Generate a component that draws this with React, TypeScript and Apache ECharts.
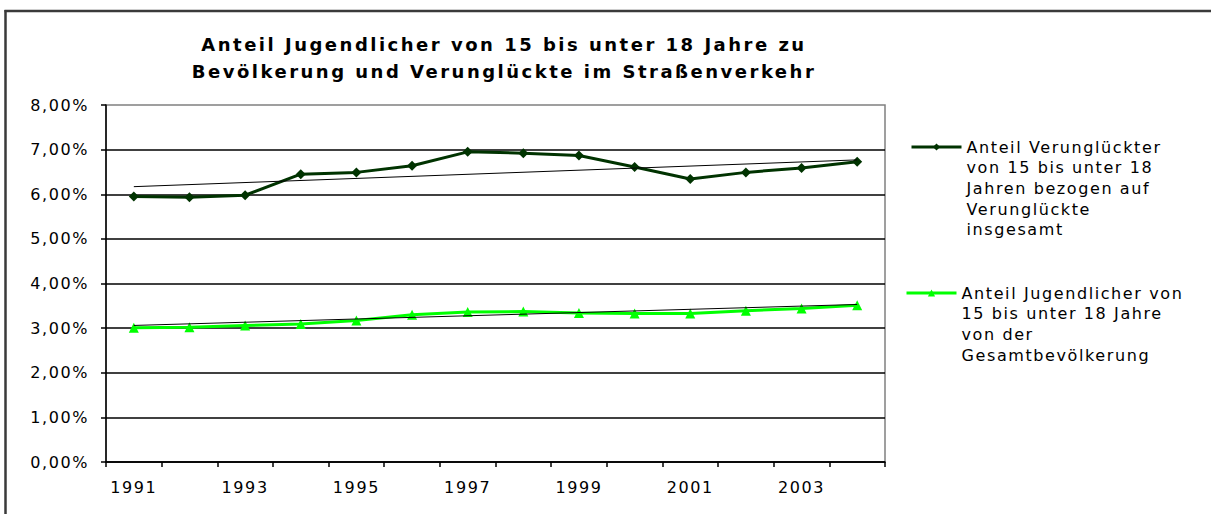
import React, { useEffect, useRef } from "react";
import * as echarts from "echarts";

const titleLines = [
  "Anteil Jugendlicher von 15 bis unter 18 Jahre zu",
  "Bevölkerung und Verunglückte im Straßenverkehr",
];

const years = ["1991", "1992", "1993", "1994", "1995", "1996", "1997", "1998", "1999", "2000", "2001", "2002", "2003", "2004"];

// Anteil Verunglückter von 15 bis unter 18 Jahren an Verunglückten insgesamt (%)
const verunglueckte = [5.95, 5.93, 5.98, 6.45, 6.49, 6.64, 6.95, 6.92, 6.87, 6.61, 6.34, 6.49, 6.59, 6.73];
// Anteil Jugendlicher von 15 bis unter 18 Jahre an der Gesamtbevölkerung (%)
const bevoelkerung = [3.01, 3.02, 3.06, 3.09, 3.17, 3.30, 3.36, 3.37, 3.34, 3.33, 3.33, 3.39, 3.44, 3.51];

// linear trend line end points (first year, last year)
const verunglueckteTrend = [6.17, 6.77];
const bevoelkerungTrend = [3.06, 3.53];

const yTicks = [0, 1, 2, 3, 4, 5, 6, 7, 8];

const legendLinesA = ["Anteil Verunglückter", "von 15 bis unter 18", "Jahren bezogen auf", "Verunglückte", "insgesamt"];
const legendLinesB = ["Anteil Jugendlicher von", "15 bis unter 18 Jahre", "von der", "Gesamtbevölkerung"];

const nameA = legendLinesA.join(" ");
const nameB = legendLinesB.join(" ");

const FONT = '"DejaVu Sans", sans-serif';
const TITLE_FONT = 'Verdana, "DejaVu Sans", sans-serif';

function trendData(ends: number[]) {
  return years.map((_, i) => (i === 0 ? ends[0] : i === years.length - 1 ? ends[1] : null));
}

// leading blank lines keep the first text line level with the legend icon
function legendText(lines: string[]) {
  return "\n".repeat(lines.length - 1) + lines.join("\n");
}

export default function App() {
  const ref = useRef<HTMLDivElement>(null);
  useEffect(() => {
    document.body.style.margin = "0";
    if (!ref.current) return;
    const chart = echarts.init(ref.current, undefined, { renderer: "svg" });
    const LH = 20.7;
    chart.setOption({
      animation: false,
      backgroundColor: "#ffffff",
      title: {
        text: titleLines.join("\n"),
        left: 504,
        top: 31,
        padding: 0,
        textAlign: "center",
        textStyle: { fontFamily: TITLE_FONT, fontWeight: "bold", fontSize: 18, lineHeight: 27, color: "#000" },
      },
      graphic: [
        {
          type: "line",
          shape: { x1: 4.5, y1: 11, x2: 1211, y2: 11 },
          style: { stroke: "#3a3a3a", lineWidth: 2.5 },
          silent: true,
        },
        {
          type: "line",
          shape: { x1: 5.5, y1: 10, x2: 5.5, y2: 514 },
          style: { stroke: "#3a3a3a", lineWidth: 2.5 },
          silent: true,
        },
      ],
      legend: [
        {
          data: [nameA],
          left: 910,
          top: 147 - (LH * 9) / 2,
          padding: 0,
          itemWidth: 50,
          itemHeight: 9,
          lineStyle: { width: 3 },
          formatter: () => legendText(legendLinesA),
          textStyle: { fontFamily: FONT, fontSize: 16, lineHeight: LH, color: "#000" },
        },
        {
          data: [nameB],
          left: 905,
          top: 293 - (LH * 7) / 2,
          padding: 0,
          itemWidth: 50,
          itemHeight: 9,
          lineStyle: { width: 3 },
          formatter: () => legendText(legendLinesB),
          textStyle: { fontFamily: FONT, fontSize: 16, lineHeight: LH, color: "#000" },
        },
      ],
      grid: {
        left: 106,
        top: 105,
        right: 1211 - 885,
        bottom: 514 - 462,
        show: true,
        borderColor: "#808080",
        borderWidth: 1.5,
        containLabel: false,
      },
      xAxis: {
        type: "category",
        data: years,
        boundaryGap: true,
        axisLine: { lineStyle: { color: "#000", width: 1.5 } },
        axisTick: { show: true, interval: 0, length: 5, lineStyle: { color: "#000", width: 1.5 } },
        axisLabel: { interval: 1, fontFamily: FONT, fontSize: 16, color: "#000", margin: 17 },
        splitLine: { show: false },
      },
      yAxis: {
        type: "value",
        min: yTicks[0],
        max: yTicks[yTicks.length - 1],
        interval: 1,
        axisLine: { show: true, lineStyle: { color: "#000", width: 1.5 } },
        axisTick: { show: true, length: 5, lineStyle: { color: "#000", width: 1.5 } },
        axisLabel: {
          fontFamily: FONT,
          fontSize: 16,
          color: "#000",
          margin: 17,
          formatter: (v: number) => v.toFixed(2).replace(".", ",") + "%",
        },
        splitLine: { show: true, showMaxLine: false, lineStyle: { color: "#000", width: 1.5 } },
      },
      series: [
        {
          name: nameA,
          type: "line",
          data: verunglueckte,
          color: "#003300",
          lineStyle: { color: "#003300", width: 3 },
          itemStyle: { color: "#003300" },
          symbol: "diamond",
          symbolSize: 10,
          z: 3,
        },
        {
          name: nameB,
          type: "line",
          data: bevoelkerung,
          color: "#00ff00",
          lineStyle: { color: "#00ff00", width: 3 },
          itemStyle: { color: "#00ff00" },
          symbol: "triangle",
          symbolSize: 10,
          z: 3,
        },
        {
          name: "Trend Verunglückte",
          type: "line",
          data: trendData(verunglueckteTrend),
          connectNulls: true,
          symbol: "none",
          lineStyle: { color: "#000", width: 1 },
          silent: true,
          z: 4,
        },
        {
          name: "Trend Bevölkerung",
          type: "line",
          data: trendData(bevoelkerungTrend),
          connectNulls: true,
          symbol: "none",
          lineStyle: { color: "#000", width: 1 },
          silent: true,
          z: 4,
        },
      ],
    });
    return () => chart.dispose();
  }, []);
  return (
    <div>
      <style>{`#chartbox text { letter-spacing: 1.6px; } #chartbox text[style*="Verdana"] { letter-spacing: 2.5px; }`}</style>
      <div id="chartbox" ref={ref} style={{ width: 1211, height: 514 }} />
    </div>
  );
}
